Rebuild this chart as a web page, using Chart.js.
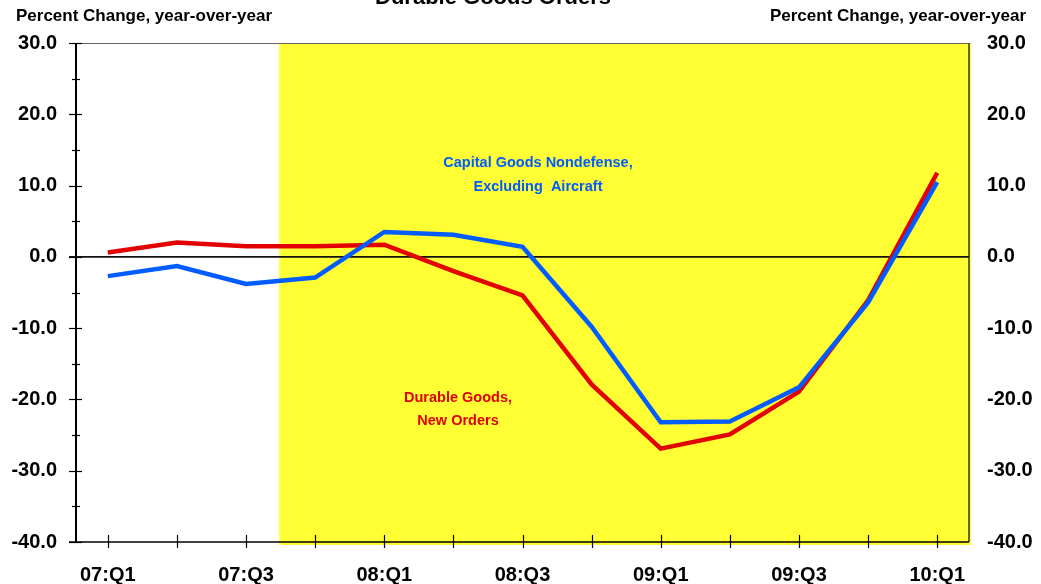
<!DOCTYPE html>
<html>
<head>
<meta charset="utf-8">
<title>Durable Goods Orders</title>
<script src="https://cdn.jsdelivr.net/npm/chart.js@4"></script>
<style>
  html, body { margin: 0; padding: 0; background: #fff; }
  #wrap { width: 1041px; height: 584px; }
</style>
</head>
<body>
<div id="wrap"><canvas id="durableChart" width="1041" height="584"></canvas></div>
<script>
const quarters = ['07:Q1', '07:Q2', '07:Q3', '07:Q4', '08:Q1', '08:Q2', '08:Q3',
                  '08:Q4', '09:Q1', '09:Q2', '09:Q3', '09:Q4', '10:Q1'];

// Durable goods, new orders (% change y/y)
const durableOrders = [0.6, 2.0, 1.5, 1.5, 1.7, -2.0, -5.4, -17.9, -26.9, -24.9, -18.9, -6.1, 11.8];

// Capital goods nondefense ex aircraft (% change y/y)
const capitalGoods = [-2.7, -1.3, -3.8, -2.9, 3.5, 3.1, 1.4, -9.8, -23.2, -23.1, -18.3, -6.4, 10.5];

const yTicks = [30, 20, 10, 0, -10, -20, -30, -40];

// recession shading starts between 07:Q3 and 07:Q4
const shadeStart = 2.48;

const FONT = "'Liberation Sans', Arial, Helvetica, sans-serif";
const RED = '#e30000';
const BLUE = '#005cff';

const toPoints = arr => arr.map((v, i) => ({ x: i, y: v }));

// background, frame, tick marks and zero line
const framePlugin = {
    id: 'frame',
    beforeDatasetsDraw(chart) {
        const { ctx, chartArea: a } = chart;
        const xs = chart.scales.x;
        const ys = chart.scales.y;
        ctx.save();

        // shaded region
        ctx.fillStyle = '#ffff33';
        const sx = xs.getPixelForValue(shadeStart);
        ctx.fillRect(sx, a.top, a.right + 2 - sx, a.bottom + 3 - a.top);

        // top + right border
        ctx.strokeStyle = '#666';
        ctx.lineWidth = 1.2;
        ctx.beginPath();
        ctx.moveTo(a.left, a.top + 0.5);
        ctx.lineTo(a.right, a.top + 0.5);
        ctx.stroke();
        ctx.strokeStyle = '#333';
        ctx.lineWidth = 1.5;
        ctx.beginPath();
        ctx.moveTo(a.right, a.top);
        ctx.lineTo(a.right, a.bottom);
        ctx.stroke();

        // left axis
        ctx.strokeStyle = '#000';
        ctx.lineWidth = 2;
        ctx.beginPath();
        ctx.moveTo(a.left, a.top);
        ctx.lineTo(a.left, a.bottom);
        ctx.stroke();

        ctx.lineWidth = 1.2;
        for (let v = ys.min; v <= ys.max; v += 5) {
            const py = Math.round(ys.getPixelForValue(v)) + 0.5;
            const major = v % 10 === 0;
            ctx.beginPath();
            ctx.moveTo(a.left - (major ? 7 : 4), py);
            ctx.lineTo(a.left + (major ? 6 : 4), py);
            ctx.stroke();
        }

        // bottom axis with crossing ticks
        ctx.lineWidth = 1.5;
        ctx.beginPath();
        ctx.moveTo(a.left - 7, a.bottom);
        ctx.lineTo(a.right, a.bottom);
        ctx.stroke();
        ctx.lineWidth = 1.2;
        quarters.forEach((q, i) => {
            const px = Math.round(xs.getPixelForValue(i)) + 0.5;
            ctx.beginPath();
            ctx.moveTo(px, a.bottom - 7);
            ctx.lineTo(px, a.bottom + 6);
            ctx.stroke();
        });

        // zero line
        const zy = ys.getPixelForValue(0);
        ctx.strokeStyle = '#111';
        ctx.lineWidth = 1.6;
        ctx.beginPath();
        ctx.moveTo(a.left - 7, zy);
        ctx.lineTo(a.right, zy);
        ctx.stroke();

        ctx.restore();
    },
    afterDraw(chart) {
        const { ctx } = chart;
        ctx.save();
        ctx.fillStyle = '#000';

        ctx.font = 'bold 22px ' + FONT;
        ctx.textAlign = 'center';
        ctx.textBaseline = 'alphabetic';
        ctx.fillText('Durable Goods Orders', 493, 4);

        ctx.font = 'bold 17px ' + FONT;
        ctx.textAlign = 'left';
        ctx.fillText('Percent Change, year-over-year', 16, 21);
        ctx.textAlign = 'right';
        ctx.fillText('Percent Change, year-over-year', 1026, 21);

        // series labels
        ctx.font = 'bold 14.5px ' + FONT;
        ctx.textAlign = 'center';
        ctx.fillStyle = BLUE;
        ctx.fillText('Capital Goods Nondefense,', 538, 167);
        ctx.fillText('Excluding  Aircraft', 538, 191);
        ctx.fillStyle = RED;
        ctx.fillText('Durable Goods,', 458, 402);
        ctx.fillText('New Orders', 458, 425);

        ctx.restore();
    }
};

const tickFont = { family: FONT, size: 20, weight: 'bold' };

new Chart(document.getElementById('durableChart'), {
    type: 'line',
    data: {
        datasets: [
            {
                label: 'Capital Goods Nondefense, Excluding Aircraft',
                data: toPoints(capitalGoods),
                borderColor: BLUE,
                borderWidth: 4.5,
                pointRadius: 0,
                tension: 0,
                order: 0
            },
            {
                label: 'Durable Goods, New Orders',
                data: toPoints(durableOrders),
                borderColor: RED,
                borderWidth: 4.5,
                pointRadius: 0,
                tension: 0,
                order: 1
            }
        ]
    },
    options: {
        responsive: false,
        animation: false,
        layout: { padding: { top: 43, left: 0, right: 0, bottom: 0 } },
        plugins: {
            legend: { display: false },
            tooltip: { enabled: false }
        },
        scales: {
            x: {
                type: 'linear',
                bounds: 'data',
                min: -0.46,
                max: 12.46,
                grid: { display: false, drawTicks: false },
                border: { display: false },
                afterBuildTicks: scale => {
                    scale.ticks = quarters.map((q, i) => ({ value: i }));
                },
                afterFit: scale => { scale.height = 42; },
                ticks: {
                    autoSkip: false,
                    maxRotation: 0,
                    padding: 21,
                    color: '#000',
                    font: tickFont,
                    callback: v => (v % 2 === 0 ? quarters[v] : '')
                }
            },
            y: {
                position: 'left',
                min: -40,
                max: 30,
                grid: { display: false, drawTicks: false },
                border: { display: false },
                afterBuildTicks: scale => {
                    scale.ticks = yTicks.map(v => ({ value: v }));
                },
                afterFit: scale => { scale.width = 76; },
                ticks: {
                    padding: 19,
                    color: '#000',
                    font: tickFont,
                    callback: v => v.toFixed(1)
                }
            },
            y2: {
                position: 'right',
                min: -40,
                max: 30,
                grid: { display: false, drawTicks: false },
                border: { display: false },
                afterBuildTicks: scale => {
                    scale.ticks = yTicks.map(v => ({ value: v }));
                },
                afterFit: scale => { scale.width = 72; },
                ticks: {
                    padding: 18,
                    color: '#000',
                    font: tickFont,
                    callback: v => v.toFixed(1)
                }
            }
        }
    },
    plugins: [framePlugin]
});
</script>
</body>
</html>
